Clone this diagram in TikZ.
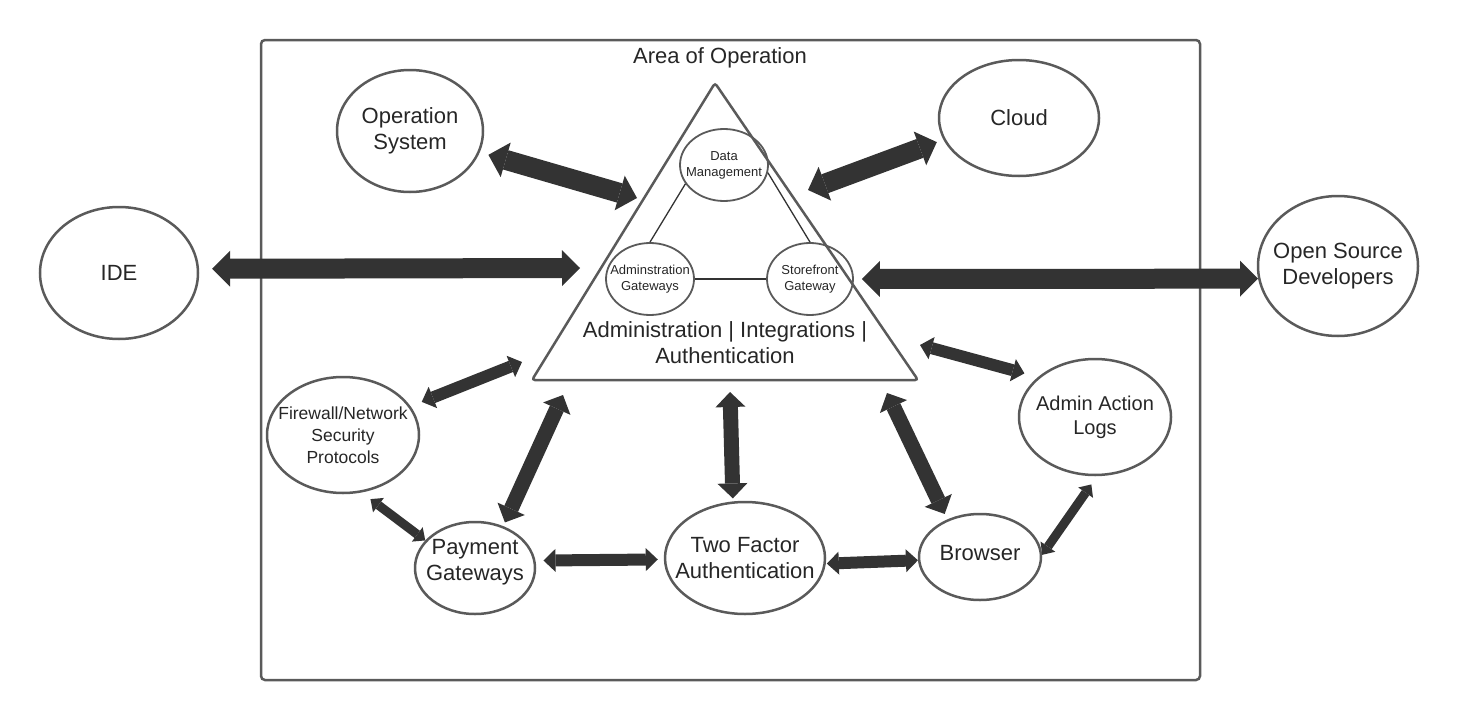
\documentclass[tikz,border=0pt]{standalone}
\usepackage{fontspec}
\setmainfont{Liberation Sans}
\usepackage{xcolor}
\usepackage{tikz}
\usetikzlibrary{shapes.geometric,arrows.meta}

\definecolor{linegray}{HTML}{5A5A5A}
\definecolor{arrowdark}{HTML}{333333}
\definecolor{textdark}{HTML}{262626}

\begin{document}
\begin{tikzpicture}[x=1pt,y=-1pt,
    bubble/.style={ellipse,draw=linegray,line width=2.5pt,inner sep=0pt},
    inner bubble/.style={bubble,line width=1.8pt},
    txt/.style={align=center,text=textdark,font=\fontsize{22}{26}\selectfont},
    link/.style n args={3}{line width=#1,draw=arrowdark,
        {Triangle[length=#2,width=#3,line width=0pt]}-{Triangle[length=#2,width=#3,line width=0pt]}},
    biglink/.style={link={20pt}{18pt}{36pt}},
    midlink/.style={link={15pt}{15pt}{30pt}},
    smalllink/.style={link={12pt}{12pt}{23pt}},
    tinylink/.style={link={9pt}{10pt}{18pt}}]
    % \draw[help lines] grid (1460,720);
    \useasboundingbox (0,0) rectangle (1460,720);

    % Area of operation
    \draw[draw=linegray,line width=2.5pt,rounded corners=4pt] (261,40) rectangle (1200,680);
    \node[txt] (area) at (720,58) {Area of Operation};

    % Core triangle
    \coordinate (apex) at (715,83);
    \coordinate (bl) at (532,380);
    \coordinate (br) at (918,380);
    \draw[draw=linegray,line width=2.5pt,rounded corners=3pt] (apex) -- (bl) -- (br) -- cycle;
    \node[txt] (core) at (725,343) {Administration | Integrations |\\Authentication};

    % Inner bubbles
    \node[inner bubble,minimum width=88,minimum height=72,
        label={[txt,font=\fontsize{13}{16}\selectfont]center:{Data\\Management}}] (dm) at (724,165) {};
    \node[inner bubble,minimum width=88,minimum height=72,
        label={[txt,font=\fontsize{13}{16}\selectfont]center:{Adminstration\\Gateways}}] (ag) at (650,279) {};
    \node[inner bubble,minimum width=86,minimum height=72,
        label={[txt,font=\fontsize{13}{16}\selectfont]center:{Storefront\\Gateway}}] (sg) at (810,279) {};
    \draw[draw=arrowdark,line width=1.3pt] (dm.206) -- (ag.north);
    \draw[draw=arrowdark,line width=1.3pt] (dm.350) -- (sg.north);
    \draw[draw=arrowdark,line width=1.3pt] (ag.east) -- (sg.west);

    % Outer bubbles
    \node[bubble,minimum width=146,minimum height=122,label={[txt]center:{Operation\\System}}] (os) at (410,131) {};
    \node[bubble,minimum width=160,minimum height=116,label={[txt]center:Cloud}] (cloud) at (1019,118) {};
    \node[bubble,minimum width=158,minimum height=132,label={[txt]center:IDE}] (ide) at (119,273) {};
    \node[bubble,minimum width=160,minimum height=140,label={[txt]center:{Open Source\\Developers}}] (osd) at (1338,266) {};
    \node[bubble,minimum width=152,minimum height=116,
        label={[txt,font=\fontsize{17.5}{22}\selectfont]center:{Firewall/Network\\Security\\Protocols}}] (fw) at (343,435) {};
    \node[bubble,minimum width=120,minimum height=92,label={[txt,yshift=6pt]center:{Payment\\Gateways}}] (pay) at (475,568) {};
    \node[bubble,minimum width=160,minimum height=112,label={[txt]center:{Two Factor\\Authentication}}] (tfa) at (745,558) {};
    \node[bubble,minimum width=122,minimum height=86,label={[txt,yshift=4pt]center:Browser}] (brw) at (980,557) {};
    \node[bubble,minimum width=152,minimum height=116,
        label={[txt,font=\fontsize{20}{24}\selectfont]center:{Admin Action\\Logs}}] (logs) at (1095,417) {};

    % Arrow ends at the triangle
    \coordinate (t-os) at (637,198);
    \coordinate (t-cloud) at (808,190);
    \coordinate (t-ide) at (580,268);
    \coordinate (t-fw) at (522,362);
    \coordinate (t-pay) at (563,395);
    \coordinate (t-tfa) at (730,392);
    \coordinate (t-brw) at (887,393);
    \coordinate (t-logs) at (920,345);

    % Arrows
    \foreach \a / \b / \s / \g / \h in {
        ide.3/t-ide/biglink/13/0, os.343/t-os/biglink/9/0,
        cloud.196/t-cloud/biglink/7/0, sg.east/osd.189/biglink/8/0,
        fw.23/t-fw/smalllink/12/0, pay.56/t-pay/midlink/4/0,
        tfa.102/t-tfa/midlink/3/0, brw.131/t-brw/midlink/6/0,
        logs.145/t-logs/smalllink/14/0, fw.288/pay.151/tinylink/11/0,
        pay.7/tfa.181/smalllink/8/6, tfa.356/brw.183/smalllink/1/0,
        brw.2/logs.272/tinylink/0/10} {
        \draw[\s,shorten <=\g pt,shorten >=\h pt] (\a) -- (\b);
    }

\end{tikzpicture}
\end{document}
